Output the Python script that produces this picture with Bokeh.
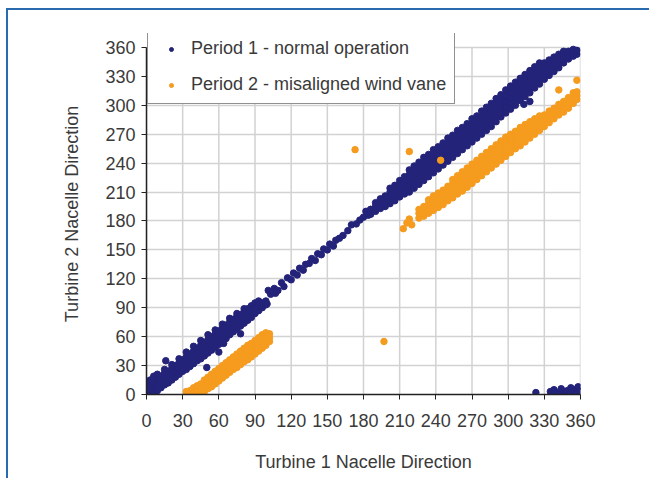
from bokeh.plotting import figure
from bokeh.layouts import column
from bokeh.models import FixedTicker, Legend, LegendItem
from bokeh.embed import file_html
from bokeh.resources import INLINE

# ---------------- data ----------------
ticks = [0, 30, 60, 90, 120, 150, 180, 210, 240, 270, 300, 330, 360]

series_names = ["Period 1 - normal operation", "Period 2 - misaligned wind vane"]

# Period 1: columns of (turbine 1 direction, [turbine 2 directions])
blue_low = [
    (0, [1, 6, 11]), (3, [0, 5, 10, 15]), (6, [2, 8, 14, 19]), (9, [4, 10, 16, 21]),
    (12, [7, 13, 19]), (15, [10, 16, 22, 26]), (18, [12, 18, 24]), (21, [15, 21, 27, 31]),
    (24, [18, 24, 30]), (27, [21, 27, 33, 37]), (30, [24, 30, 36]), (33, [26, 33, 39, 44]),
    (36, [29, 36, 42]), (39, [32, 39, 45, 50]), (42, [35, 42, 48]), (45, [37, 44, 51, 56]),
    (48, [40, 47, 54]), (51, [43, 50, 57, 62]), (54, [46, 53, 60]), (57, [49, 56, 63, 67]),
    (60, [52, 59, 66]), (63, [55, 62, 69, 73]), (66, [58, 65, 72]), (69, [62, 68, 75, 79]),
    (72, [65, 71, 78]), (75, [68, 74, 81, 84]), (78, [71, 77, 83]), (81, [74, 80, 86, 89]),
    (84, [77, 83, 89]), (87, [80, 86, 92]), (90, [84, 89, 95]), (93, [87, 92, 97]),
    (96, [90, 95]), (99, [93, 97]),
]
blue_mid = [
    (103, [104]), (106, [110]), (109, [108]), (112, [116]), (114, [112]), (117, [121]),
    (120, [119]), (122, [126]), (125, [124]), (127, [131]), (130, [129]), (132, [135]),
    (135, [136]), (137, [141]), (140, [139]), (142, [146]), (145, [145]), (147, [151]),
    (150, [150]), (152, [156]), (155, [154]), (157, [160]), (160, [162]), (163, [165]),
    (167, [170]), (170, [176]), (174, [177]), (177, [181]), (180, [184]), (182, [190]),
    (184, [186]), (186, [192]),
]
blue_high = [
    (186, [187, 192]), (190, [190, 195, 199]), (194, [193, 198, 203]), (198, [195, 201, 206]),
    (202, [198, 204, 210, 214]), (206, [201, 207, 213, 217]), (210, [205, 211, 217, 222]),
    (214, [208, 214, 220, 226]), (218, [210, 216, 222, 228, 233]), (222, [214, 220, 226, 232, 237]),
    (226, [218, 224, 230, 236, 241]), (230, [222, 228, 234, 240, 246]), (234, [226, 232, 238, 244, 249]),
    (238, [230, 236, 242, 248, 254]), (242, [234, 240, 246, 252, 257]), (246, [238, 244, 250, 256, 261]),
    (250, [242, 248, 254, 260, 266]), (254, [246, 252, 258, 264, 269]), (258, [250, 256, 262, 268, 274]),
    (262, [254, 260, 266, 272, 277]), (266, [258, 264, 270, 276, 281]), (270, [262, 268, 274, 280, 286]),
    (274, [266, 272, 278, 284, 289]), (278, [270, 276, 282, 288, 294]), (282, [274, 280, 286, 292, 298]),
    (286, [278, 284, 290, 296, 302]), (290, [283, 289, 295, 301, 307]), (294, [288, 294, 300, 306, 311]),
    (298, [292, 298, 304, 310, 316]), (302, [296, 302, 308, 314, 320]), (306, [300, 306, 312, 318, 324]),
    (310, [305, 311, 317, 323, 328]), (314, [309, 315, 321, 327, 332]), (318, [313, 319, 325, 331, 336]),
    (322, [318, 324, 330, 336, 340]), (326, [322, 328, 334, 340, 344]), (330, [327, 333, 339, 344]),
    (334, [331, 337, 342, 347]), (338, [335, 341, 346, 350]), (342, [339, 344, 349, 353]),
    (346, [344, 348, 353, 356]), (350, [348, 352, 356]), (354, [351, 355, 358]), (357, [353, 357]),
]
blue_wrap = [
    (323, [2]), (335, [3]), (338, [5]), (339, [1]), (341, [2]), (343, [1]), (344, [6]),
    (346, [3]), (347, [0]), (349, [4]), (351, [1]), (352, [7]), (354, [4]), (356, [2]),
    (357, [6]), (358, [8]), (359, [3]),
]
blue_outliers = [
    (16, [35]), (50, [28]), (60, [44]), (64, [53]), (78, [63]), (100, [94]),
    (101, [108]), (107, [105]), (313, [301]), (318, [304]),
]

# Period 2
orange_low = [
    (33, [0, 3]), (36, [0, 4]), (39, [0, 3, 7]), (42, [1, 5, 9]), (45, [2, 7, 11]),
    (48, [3, 8, 12, 15]), (51, [6, 10, 14, 18]), (54, [8, 13, 17, 21]), (57, [11, 16, 20, 24]),
    (60, [14, 19, 23, 27]), (63, [17, 22, 26, 30]), (66, [20, 25, 29, 33]), (69, [23, 28, 32, 36]),
    (72, [26, 31, 35, 39]), (75, [28, 33, 37, 42]), (78, [31, 36, 40, 45]), (81, [34, 39, 43, 48]),
    (84, [36, 41, 46, 51]), (87, [39, 44, 48, 53]), (90, [42, 47, 51, 56]), (93, [45, 50, 54, 59]),
    (96, [48, 53, 57, 62]), (99, [51, 56, 60, 64]), (102, [55, 59, 63]),
]
orange_high = [
    (226, [183, 188, 192]), (230, [185, 190, 195]), (234, [188, 193, 198, 202]),
    (238, [191, 196, 201, 206]), (242, [194, 199, 204, 209]), (246, [197, 202, 207, 212]),
    (250, [201, 206, 211, 216]), (254, [204, 209, 214, 219, 223]), (258, [208, 213, 218, 223, 227]),
    (262, [211, 216, 221, 226, 231]), (266, [215, 220, 225, 230, 235]), (270, [219, 224, 229, 234, 239]),
    (274, [223, 228, 233, 238, 243]), (278, [227, 232, 237, 242, 247]), (282, [231, 236, 241, 246, 251]),
    (286, [235, 240, 245, 250, 255]), (290, [239, 244, 249, 254, 259]), (294, [243, 248, 253, 258, 263]),
    (298, [247, 252, 257, 262, 267]), (302, [251, 256, 261, 266, 270]), (306, [255, 260, 265, 269, 273]),
    (310, [258, 263, 268, 273, 277]), (314, [262, 267, 272, 276, 280]), (318, [266, 271, 275, 279, 283]),
    (322, [270, 274, 278, 282, 286]), (326, [274, 278, 282, 286, 289]), (330, [278, 282, 286, 290]),
    (334, [282, 286, 290, 294]), (338, [286, 290, 294, 297]), (342, [290, 294, 297, 301]),
    (346, [293, 297, 301, 304]), (350, [297, 301, 305, 308]), (354, [302, 306, 310, 313]),
    (357, [306, 310, 314]),
]
orange_outliers = [
    (213, [172]), (216, [178]), (220, [176]), (218, [182]), (173, [254]), (218, [252]),
    (244, [243]), (197, [55]), (357, [326]), (342, [316]),
]


def expand(*groups):
    xs, ys = [], []
    for g in groups:
        for x, col in g:
            for y in col:
                xs.append(x)
                ys.append(y)
    return xs, ys


bx, by = expand(blue_low, blue_mid, blue_high, blue_wrap, blue_outliers)
ox, oy = expand(orange_low, orange_high, orange_outliers)

BLUE = "#24237a"
ORANGE = "#f59b1e"
FONT = "Liberation Sans"
TXT = "#3a3a3a"
GRID = "#d2d2d2"
FRAME_BLUE = "#2a6bb0"

p = figure(width=641, height=468, output_backend="svg", toolbar_location=None,
           x_range=(0, 360), y_range=(0, 374.5),
           min_border_left=138, min_border_right=69, min_border_top=23, min_border_bottom=84)
p.frame_width = 434
p.frame_height = 361
p.outline_line_color = None
p.background_fill_color = "white"
p.border_fill_color = "white"

# vertical grid lines, only up to the 360 line
p.segment(x0=ticks, y0=[0] * len(ticks), x1=ticks, y1=[360] * len(ticks),
          line_color=GRID, line_width=1.5)
p.xgrid.visible = False
p.ygrid[0].ticker = FixedTicker(ticks=ticks)
p.ygrid[0].grid_line_color = GRID
p.ygrid[0].grid_line_width = 1.5

r1 = p.scatter(bx, by, size=6.5, color=BLUE, line_color=BLUE)
r2 = p.scatter(ox, oy, size=6.5, color=ORANGE, line_color=ORANGE)

for ax in (p.xaxis[0], p.yaxis[0]):
    ax.ticker = FixedTicker(ticks=ticks)
    ax.minor_tick_line_color = None
    ax.major_tick_in = 0
    ax.major_tick_out = 5
    ax.major_tick_line_color = "#222222"
    ax.axis_line_color = "#222222"
    ax.axis_line_width = 1.5
    ax.major_label_text_font = FONT
    ax.major_label_text_font_size = "18px"
    ax.major_label_text_color = TXT
    ax.axis_label_text_font = FONT
    ax.axis_label_text_font_size = "18px"
    ax.axis_label_text_font_style = "normal"
    ax.axis_label_text_color = TXT

p.yaxis.bounds = (0, 360)
p.xaxis.axis_label = "Turbine 1 Nacelle Direction"
p.yaxis.axis_label = "Turbine 2 Nacelle Direction"
p.xaxis.major_label_standoff = 14
p.yaxis.major_label_standoff = 6
p.xaxis.axis_label_standoff = 22
p.yaxis.axis_label_standoff = 20

legend = Legend(items=[LegendItem(label=series_names[0], renderers=[r1]),
                       LegendItem(label=series_names[1], renderers=[r2])],
                location=(1, 290))
legend.label_text_font = FONT
legend.label_text_font_size = "18px"
legend.label_text_color = TXT
legend.glyph_width = 30
legend.glyph_height = 10
legend.label_height = 20
legend.spacing = 15
legend.padding = 8
legend.label_standoff = 5
legend.border_line_color = "#222222"
legend.border_line_width = 1.5
legend.background_fill_color = "white"
legend.background_fill_alpha = 1
legend.margin = 0
p.add_layout(legend, "center")

# page frame: top and left rules as the wrapper's borders
root = column(p, styles={"box-sizing": "content-box",
                         "margin-left": "6px", "margin-top": "8px",
                         "border-top": f"2px solid {FRAME_BLUE}",
                         "border-left": f"2px solid {FRAME_BLUE}",
                         "background-color": "white"})

open("out.html", "w").write(file_html(root, INLINE))
